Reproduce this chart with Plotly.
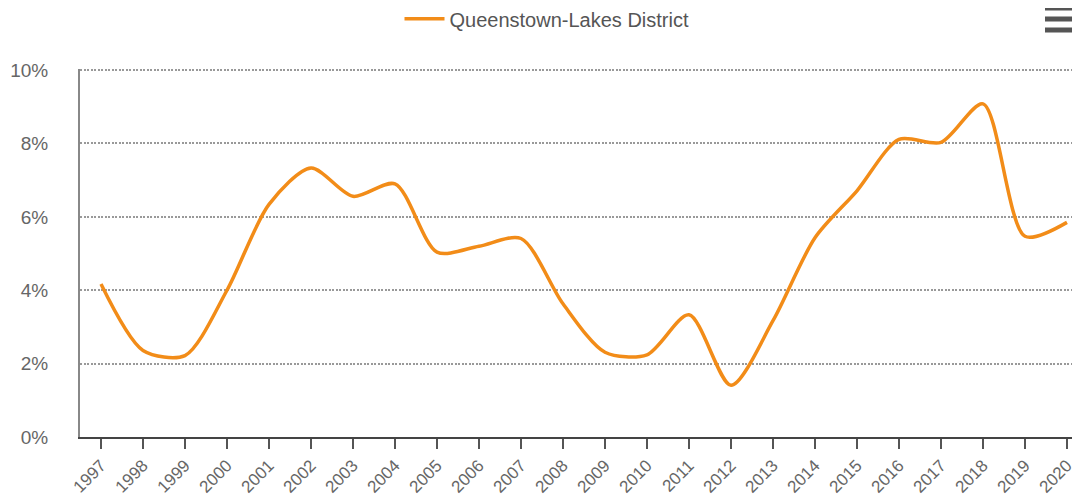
import plotly.graph_objects as go

years = [str(y) for y in range(1997, 2021)]
series_name = "Queenstown-Lakes District"
values = [4.17, 2.36, 2.22, 4.0, 6.34, 7.33, 6.56, 6.9, 5.04, 5.2, 5.41, 3.63,
          2.31, 2.24, 3.33, 1.41, 3.17, 5.43, 6.71, 8.11, 8.03, 9.08, 5.47, 5.85]
y_ticks = [0, 2, 4, 6, 8, 10]
y_tick_labels = ["0%", "2%", "4%", "6%", "8%", "10%"]

# page has an 8px body margin, so the figure starts at (8, 8)
W, H = 1072, 494
L, T, B = 72, 61, 65

fig = go.Figure()
fig.add_trace(go.Scatter(
    x=list(range(len(years))), y=values, mode="lines", name=series_name,
    line=dict(color="#F28C18", width=3.5, shape="spline", smoothing=0.8),
))

fig.update_layout(
    width=W, height=H,
    margin=dict(l=L, r=0, t=T, b=B, autoexpand=False),
    paper_bgcolor="white", plot_bgcolor="white",
    font=dict(family="Liberation Sans, Arial, sans-serif", color="#666666"),
    showlegend=True,
    legend=dict(orientation="h", x=0.467, xanchor="center", y=0.978, yanchor="middle",
                yref="container", font=dict(size=20, color="#555555"),
                itemwidth=40),
    xaxis=dict(
        tickmode="array", tickvals=list(range(len(years))), ticktext=years,
        range=[-0.5, 23.31], tickangle=-45, tickfont=dict(size=17, color="#666666"),
        showgrid=False, zeroline=False,
        showline=True, linecolor="#444444", linewidth=2,
        ticks="outside", ticklen=10, tickwidth=2, tickcolor="#555555",
        automargin=False,
    ),
    yaxis=dict(
        tickmode="array", tickvals=y_ticks, ticktext=y_tick_labels,
        range=[0, 10.03], tickfont=dict(size=19, color="#666666"),
        showgrid=True, gridcolor="#999999", griddash="2px,1.5px", gridwidth=1.5,
        zeroline=False, showline=True, linecolor="#888888", linewidth=2,
        ticks="", ticklabelstandoff=26, automargin=False,
    ),
)

# hamburger menu icon (paper coords; plot area spans 368 px tall, 1000 px wide)
ph = H - T - B
for py in [8, 19, 30]:
    yy = (H - B - (py - 8)) / ph
    fig.add_shape(type="line", xref="paper", yref="paper",
                  x0=0.965, x1=1.0, y0=yy, y1=yy,
                  line=dict(color="#555555", width=5))

fig.write_html("out.html")
